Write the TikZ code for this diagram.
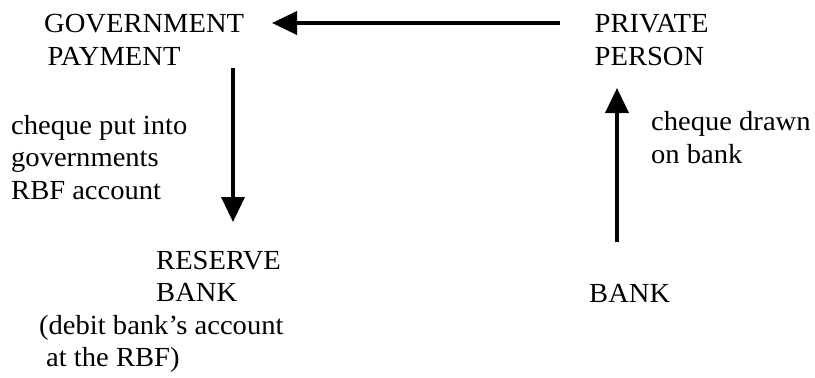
\documentclass[tikz,border=0pt]{standalone}
\usepackage{fontspec}
\setmainfont[FakeStretch=1.035]{Liberation Serif}
\usetikzlibrary{arrows.meta}
\begin{document}
\begin{tikzpicture}[x=1pt,y=-1pt,
  lbl/.style={anchor=base west,inner sep=0pt,align=left,font={\fontsize{27.6}{32.5}\selectfont}},
  arr/.style={line width=3.6pt,-{Triangle[length=25pt,width=23pt]}}]
\useasboundingbox[fill=white] (0,0) rectangle (815,378);
\node[lbl] (gov) at (44,65) {GOVERNMENT\\\hspace*{3.5pt}PAYMENT};
\node[lbl] (pp) at (594.5,65) {PRIVATE\\PERSON};
\node[lbl] (lefttxt) at (11,199) {cheque put into\\governments\\RBF account};
\node[lbl] (righttxt) at (651,163) {cheque drawn\\on bank};
\node[lbl] (rb) at (39,366.5) {\hspace*{117pt}RESERVE\\\hspace*{117pt}BANK\\(debit bank’s account\\\hspace*{7pt}at the RBF)};
\node[lbl] (bank) at (589,302) {BANK};
\coordinate (a1s) at (560,23);
\coordinate (a1e) at (272,23);
\coordinate (a2s) at (233,68);
\coordinate (a2e) at (233,222);
\coordinate (a3s) at (617,242);
\coordinate (a3e) at (617,88);
\draw[arr] (a1s) -- (a1e);
\draw[arr] (a2s) -- (a2e);
\draw[arr] (a3s) -- (a3e);
\end{tikzpicture}
\end{document}
